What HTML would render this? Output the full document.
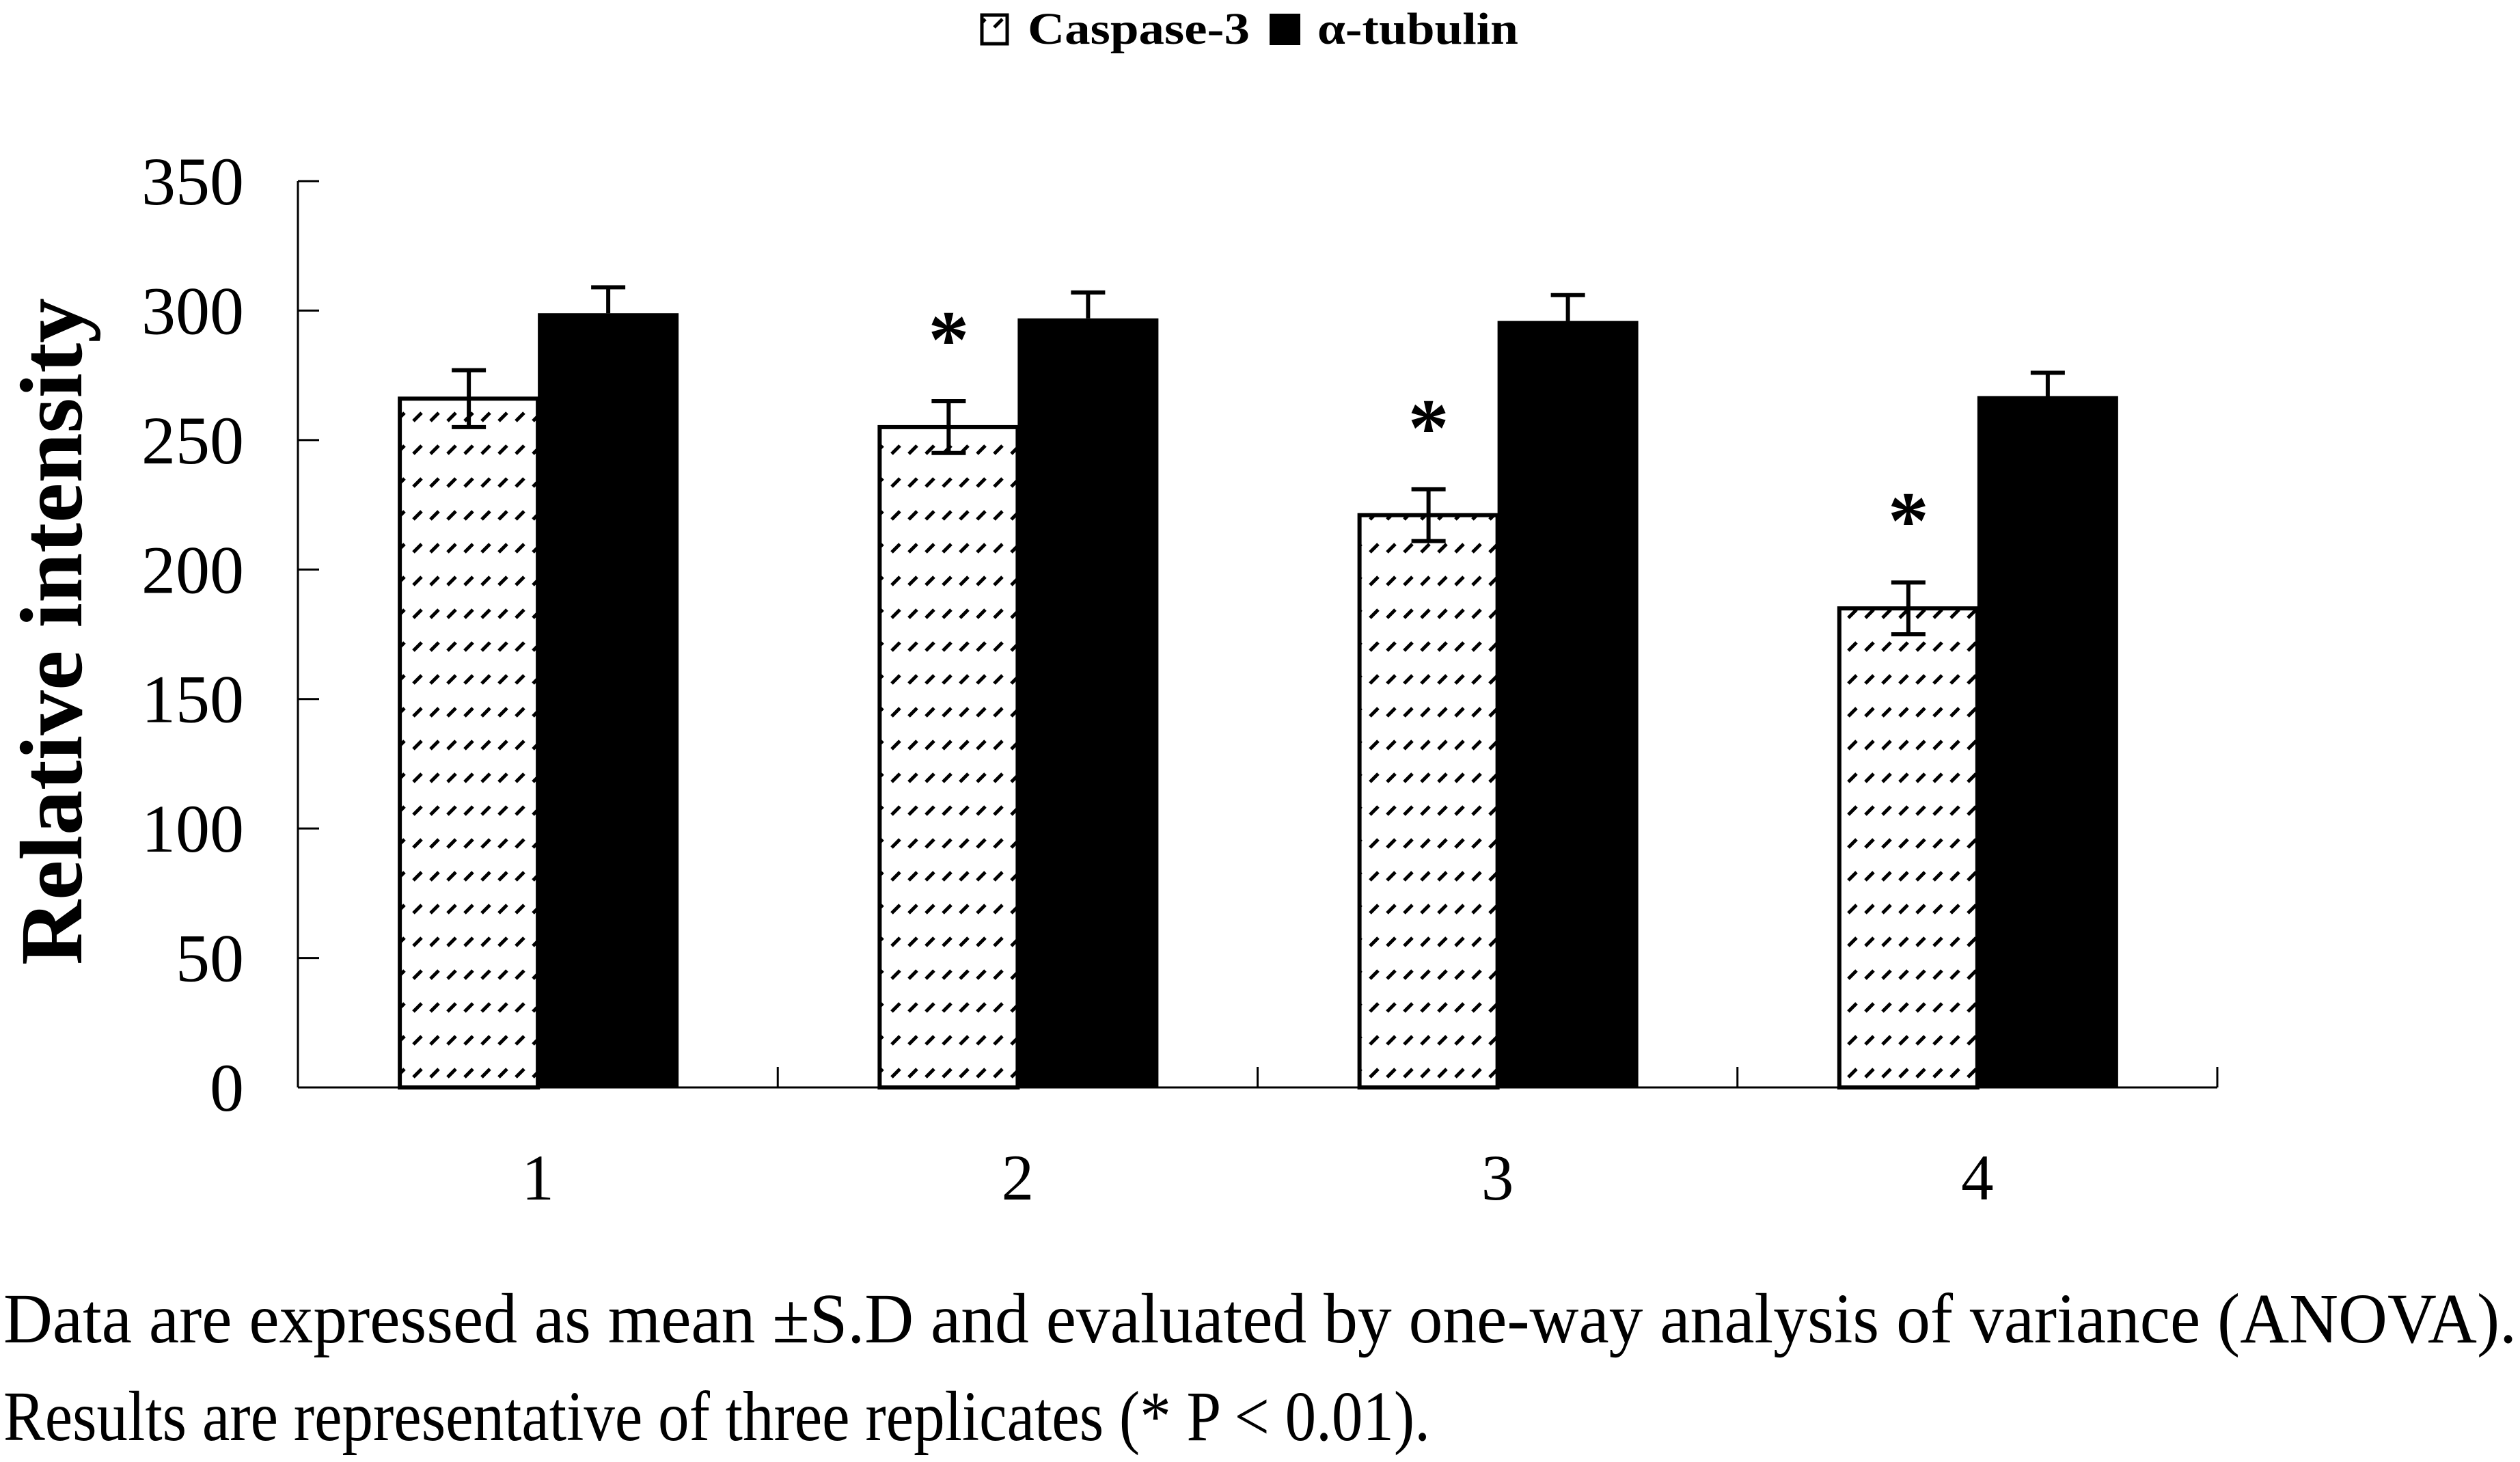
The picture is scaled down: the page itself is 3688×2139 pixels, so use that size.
<!DOCTYPE html>
<html><head><meta charset="utf-8"><style>
html,body{margin:0;padding:0;background:#fff;}
svg{display:block;}
text{font-family:"Liberation Serif",serif;fill:#000;}
</style></head>
<body>
<svg id="chart" width="3688" height="2139" viewBox="0 0 3688 2139" xmlns="http://www.w3.org/2000/svg">
<defs>
<pattern id="hatch" x="0" y="0" width="25" height="48" patternUnits="userSpaceOnUse">
<line x1="5" y1="40" x2="17" y2="28" stroke="#000" stroke-width="5"/>
</pattern>
</defs>
<g id="legend">
<g>
<rect x="1437" y="22" width="37" height="42" fill="url(#hatch)" stroke="#000" stroke-width="5"/>
<text x="1504" y="64" font-size="66" font-weight="bold" textLength="325" lengthAdjust="spacingAndGlyphs">Caspase-3</text>
</g>
<g>
<rect x="1858" y="20" width="45" height="46" fill="#000"/>
<text x="1928" y="64" font-size="66" font-weight="bold" textLength="294" lengthAdjust="spacingAndGlyphs">α-tubulin</text>
</g>
</g>
<text transform="translate(119,1412) rotate(-90)" font-size="130" font-weight="bold" textLength="976" lengthAdjust="spacingAndGlyphs">Relative intensity</text>
<g id="axes"></g>
<g id="bars"></g>
<text x="5" y="1964" font-size="104" textLength="3678" lengthAdjust="spacingAndGlyphs">Data are expressed as mean ±S.D and evaluated by one-way analysis of variance (ANOVA).</text>
<text x="5" y="2107" font-size="104" textLength="2088" lengthAdjust="spacingAndGlyphs">Results are representative of three replicates (* P &lt; 0.01).</text>
</svg>
<script>
const categories = ["1","2","3","4"];
const caspase = [266, 255, 221, 185];
const caspaseSD = [11, 10, 10, 10];
const tubulin = [299, 297, 296, 267];
const tubulinSD = [10, 10, 10, 9];
const significant = [false, true, true, true];
const yTicks = [0, 50, 100, 150, 200, 250, 300, 350];

const NS = "http://www.w3.org/2000/svg";
const X0 = 436, X1 = 3245, Y0 = 1591, YMAX = 350, PXU = (1591 - 265) / 350;
const groupW = (X1 - X0) / categories.length;
const barW = 202;
function y(v){ return Y0 - v * PXU; }
function xc(i){ return X0 + groupW * (i + 0.5); }
function mk(tag, attrs, parent){
  const e = document.createElementNS(NS, tag);
  for (const k in attrs) e.setAttribute(k, attrs[k]);
  parent.appendChild(e);
  return e;
}
const axes = document.getElementById('axes');
const bars = document.getElementById('bars');

let ax = mk('line', {x1:X0, y1:y(YMAX), x2:X0, y2:Y0, stroke:'#000', 'stroke-width':3}, axes);


let bx = mk('line', {x1:X0, y1:Y0, x2:X1, y2:Y0, stroke:'#000', 'stroke-width':3}, axes);



yTicks.forEach(t => {
  const tk = mk('line', {x1:X0, y1:y(t), x2:X0+31, y2:y(t), stroke:'#000', 'stroke-width':3}, axes);
  
  
  const lb = mk('text', {x:357, y:y(t)+34, 'font-size':100, 'text-anchor':'end'}, axes);
  lb.textContent = String(t);
  
  
});

for (let i = 1; i <= categories.length; i++) {
  const gx = X0 + groupW * i;
  const tk = mk('line', {x1:gx, y1:Y0, x2:gx, y2:Y0-30, stroke:'#000', 'stroke-width':3}, axes);
  
  
}

categories.forEach((c, i) => {
  const cx = xc(i);
  const lb = mk('text', {x:cx, y:1755, 'font-size':95, 'text-anchor':'middle'}, axes);
  lb.textContent = c;
  
  

  const b1 = mk('rect', {x:cx-barW, y:y(caspase[i]), width:barW, height:Y0-y(caspase[i]), fill:'url(#hatch)', stroke:'#000', 'stroke-width':6}, bars);
  
  
  const b2 = mk('rect', {x:cx, y:y(tubulin[i]), width:barW+4, height:Y0-y(tubulin[i]), fill:'#000'}, bars);
  
  

  const ex1 = cx - barW/2;
  const e1 = mk('path', {d:`M${ex1},${y(caspase[i]+caspaseSD[i])}V${y(caspase[i]-caspaseSD[i])}M${ex1-25},${y(caspase[i]+caspaseSD[i])}H${ex1+25}M${ex1-25},${y(caspase[i]-caspaseSD[i])}H${ex1+25}`, stroke:'#000', 'stroke-width':6, fill:'none'}, bars);
  
  
  const ex2 = cx + barW/2 + 2;
  const e2 = mk('path', {d:`M${ex2},${y(tubulin[i]+tubulinSD[i])}V${y(tubulin[i])}M${ex2-25},${y(tubulin[i]+tubulinSD[i])}H${ex2+25}`, stroke:'#000', 'stroke-width':6, fill:'none'}, bars);
  
  

  if (significant[i]) {
    const s = mk('text', {x:ex1, y:y(caspase[i]+caspaseSD[i]) - 50, 'font-size':120, 'font-weight':'bold', 'text-anchor':'middle'}, bars);
    s.textContent = '*';
    
    
  }
});
</script>
</body></html>
